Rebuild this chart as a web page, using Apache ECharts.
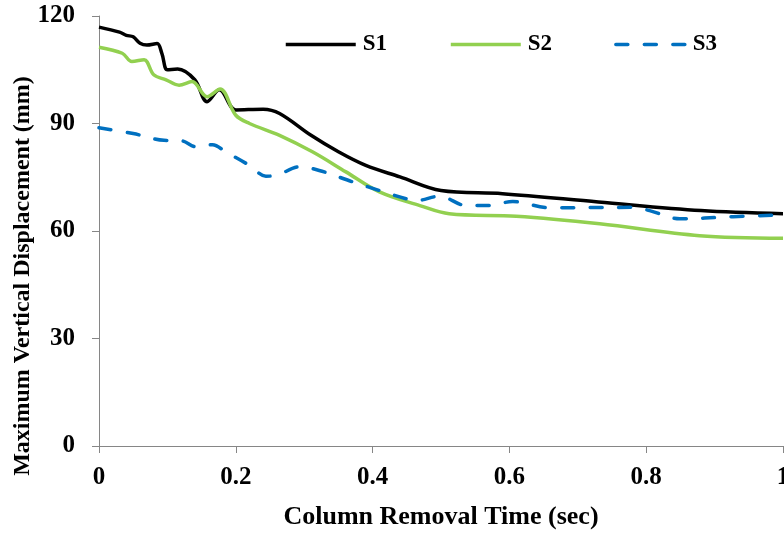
<!DOCTYPE html>
<html>
<head>
<meta charset="utf-8">
<script src="https://cdn.jsdelivr.net/npm/echarts@6/dist/echarts.min.js"></script>
<style>
  html, body { margin: 0; padding: 0; background: #fff; }
  #chart { width: 784px; height: 533px; }
</style>
</head>
<body>
<div id="chart"></div>
<script>
  // data
  var seriesNames = ['S1', 'S2', 'S3'];

  var s1Time = [0, 0.03, 0.04, 0.05, 0.06, 0.07, 0.085, 0.092, 0.1, 0.115, 0.14, 0.158, 0.176, 0.2, 0.24, 0.264, 0.31, 0.35, 0.39, 0.44, 0.5, 0.59, 0.73, 0.88, 1.0];
  var s1Disp = [116.9, 115.5, 114.6, 114.2, 112.4, 111.9, 112.3, 109.5, 105.0, 105.2, 102.2, 96.1, 99.4, 93.8, 94.0, 92.8, 86.7, 82.1, 78.3, 75.1, 71.3, 70.4, 68.1, 65.7, 64.8];

  var s2Time = [0, 0.034, 0.048, 0.066, 0.08, 0.098, 0.117, 0.136, 0.158, 0.177, 0.2, 0.22, 0.264, 0.312, 0.361, 0.41, 0.469, 0.512, 0.61, 0.732, 0.878, 1.0];
  var s2Disp = [111.3, 109.6, 107.3, 107.8, 103.6, 102.2, 100.7, 101.7, 97.5, 99.6, 92.3, 90.0, 86.7, 82.1, 76.5, 70.9, 67.1, 64.8, 64.1, 62.0, 58.7, 58.0];

  var s3Time = [0, 0.05, 0.095, 0.12, 0.142, 0.166, 0.185, 0.22, 0.244, 0.259, 0.293, 0.322, 0.371, 0.41, 0.449, 0.464, 0.498, 0.537, 0.566, 0.605, 0.659, 0.781, 0.805, 0.849, 0.927, 1.0];
  var s3Disp = [88.8, 87.2, 85.3, 85.2, 83.5, 84.1, 82.1, 78.3, 75.3, 75.5, 77.9, 76.9, 73.7, 71.3, 69.0, 68.5, 69.7, 67.1, 67.1, 68.2, 66.5, 66.6, 65.7, 63.4, 64.0, 64.5];

  var xTicks = [0, 0.2, 0.4, 0.6, 0.8, 1];
  var yTicks = [0, 30, 60, 90, 120];

  function pairs(xs, ys) {
    var out = [];
    for (var i = 0; i < xs.length; i++) {
      out.push([xs[i], ys[i]]);
    }
    return out;
  }

  var font = 'Liberation Serif';
  var axisGray = '#868686';

  var option = {
    animation: false,
    backgroundColor: '#fff',
    grid: { left: 99, right: 1, top: 16, bottom: 87, containLabel: false, outerBoundsMode: 'none' },
    legend: {
      left: 279,
      top: 28,
      itemWidth: 70,
      itemHeight: 14,
      itemGap: 62,
      itemStyle: { opacity: 0 },
      lineStyle: { width: 3.5 },
      textStyle: { fontFamily: font, fontWeight: 'bold', fontSize: 23, color: '#000', padding: [0, 0, 0, 2] },
      data: seriesNames
    },
    xAxis: {
      type: 'value',
      min: 0, max: 1, interval: 0.2,
      name: 'Column Removal Time (sec)',
      nameLocation: 'middle',
      nameGap: 58,
      nameMoveOverlap: false,
      nameTextStyle: { fontFamily: font, fontWeight: 'bold', fontSize: 26, color: '#000' },
      axisLine: { show: true, lineStyle: { color: axisGray, width: 1 } },
      axisTick: { show: true, length: 7, lineStyle: { color: axisGray } },
      splitLine: { show: false },
      axisLabel: {
        fontFamily: font, fontWeight: 'bold', fontSize: 25, color: '#000', margin: 19,
        showMaxLabel: true,
        formatter: function (v) { return xTicks.indexOf(+v.toFixed(1)) >= 0 ? String(+v.toFixed(1)) : ''; }
      }
    },
    yAxis: {
      type: 'value',
      min: 0, max: 120, interval: 30,
      name: 'Maximum Vertical Displacement (mm)',
      nameLocation: 'middle',
      nameGap: 64,
      nameMoveOverlap: false,
      nameTextStyle: { fontFamily: font, fontWeight: 'bold', fontSize: 24, color: '#000', padding: [0, 90, 0, 0] },
      axisLine: { show: true, lineStyle: { color: axisGray, width: 1 } },
      axisTick: { show: true, length: 7, lineStyle: { color: axisGray } },
      splitLine: { show: false },
      axisLabel: { fontFamily: font, fontWeight: 'bold', fontSize: 25, color: '#000', margin: 24 }
    },
    series: [
      {
        name: seriesNames[0], type: 'line', smooth: 0.35, symbol: 'none',
        data: pairs(s1Time, s1Disp),
        itemStyle: { color: '#000000' },
        lineStyle: { color: '#000000', width: 3.5 }
      },
      {
        name: seriesNames[1], type: 'line', smooth: 0.35, symbol: 'none',
        data: pairs(s2Time, s2Disp),
        itemStyle: { color: '#92D050' },
        lineStyle: { color: '#92D050', width: 3.5 }
      },
      {
        name: seriesNames[2], type: 'line', smooth: 0.35, symbol: 'none',
        data: pairs(s3Time, s3Disp),
        itemStyle: { color: '#0070C0' },
        lineStyle: { color: '#0070C0', width: 3.5, type: [12, 16.5], cap: 'round' }
      }
    ]
  };

  var chart = echarts.init(document.getElementById('chart'), null, { renderer: 'canvas' });
  chart.setOption(option);
</script>
</body>
</html>
